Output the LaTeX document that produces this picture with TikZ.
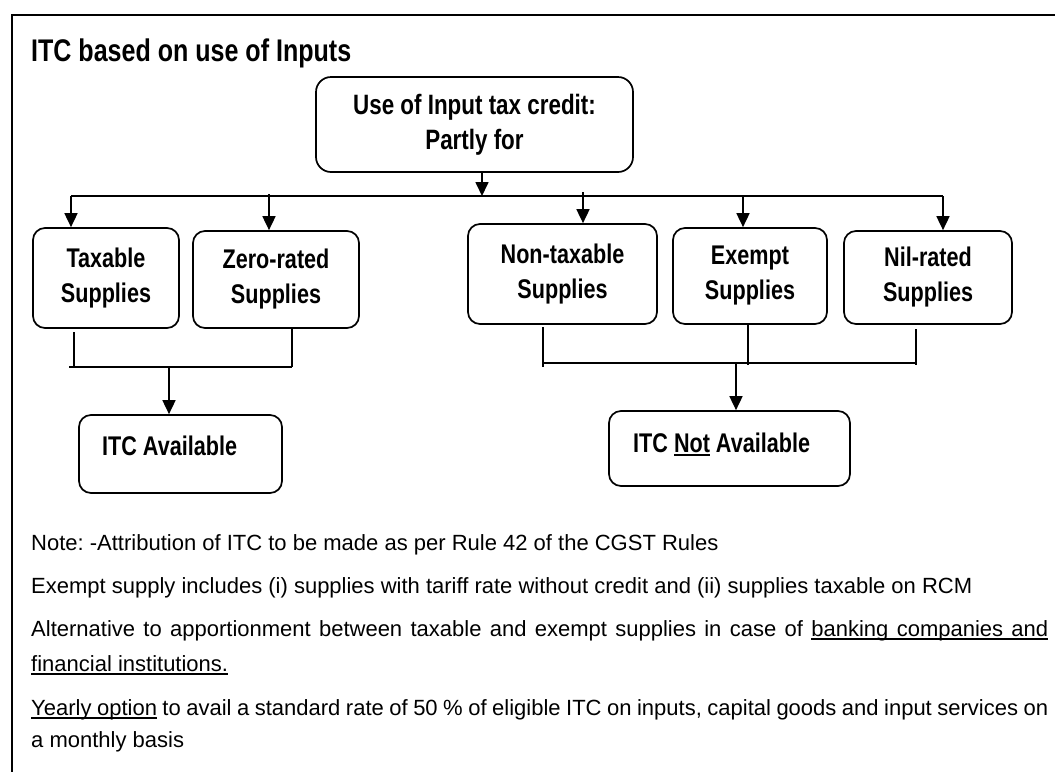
\documentclass[tikz,border=0pt]{standalone}
\usepackage{fontspec}
\setmainfont{Liberation Sans}
\newfontfamily\narrowfont{Liberation Sans}[FakeStretch=0.8]
\usetikzlibrary{arrows.meta}
\newcommand\ulw[1]{\setbox0=\hbox{#1}\rlap{\vrule height -2.4pt depth 4.0pt width \wd0}\box0\relax}
\newcommand\uls{\leaders\hrule height -2.4pt depth 4.0pt\hskip\fontdimen2\font plus \fontdimen3\font minus \fontdimen4\font\relax}
\begin{document}
\frenchspacing
\begin{tikzpicture}[x=1pt,y=-1pt,
  conn/.style={line width=1.7pt, line cap=butt},
  arr/.style={line width=1.7pt, -{Triangle[length=14pt,width=13pt]}},
  rbox/.style={draw, line width=1.7pt, rounded corners=12pt, inner sep=0pt, align=center,
    font=\narrowfont\bfseries\fontsize{27}{35}\selectfont},
  btext/.style={inner sep=0pt, anchor=base west, font=\narrowfont\bfseries\fontsize{27}{30}\selectfont},
  note/.style={inner sep=0pt, anchor=base west, font=\fontsize{22}{26}\selectfont}]
\useasboundingbox (0,0) rectangle (1055,772);
% frame
\coordinate (fr) at (1055,15);
\coordinate (fc) at (12,15);
\coordinate (fb) at (12,772);
\draw[line width=1.8pt] (fr) -- (fc) -- (fb);
% title
\node[inner sep=0pt, anchor=base west, font=\narrowfont\bfseries\fontsize{31.3}{34}\selectfont] (title) at (31,61) {ITC based on use of Inputs};
% boxes
\node[rbox, font=\narrowfont\bfseries\fontsize{28}{35}\selectfont, rounded corners=15pt, minimum width=317pt, minimum height=95pt] (top) at (474.5,124.5) {Use of Input tax credit:\\Partly for};
\node[rbox, minimum width=146pt, minimum height=100pt] (tax) at (106,278) {Taxable\\Supplies};
\node[rbox, minimum width=166pt, minimum height=97pt] (zero) at (276,279.5) {Zero-rated\\Supplies};
\node[rbox, minimum width=189pt, minimum height=100pt] (nontax) at (562.5,274) {Non-taxable\\Supplies};
\node[rbox, minimum width=154pt, minimum height=96pt] (exempt) at (750,276) {Exempt\\Supplies};
\node[rbox, minimum width=168pt, minimum height=93pt] (nil) at (928,277.5) {Nil-rated\\Supplies};
\node[rbox, minimum width=203pt, minimum height=78pt] (avail) at (180.5,454) {};
\node[btext] (availtxt) at (102,455) {ITC Available};
\node[rbox, minimum width=241pt, minimum height=75pt] (notavail) at (729.5,448.5) {};
\node[btext] (notavailtxt) at (633,452) {ITC \ulw{Not} Available};
% distribution line
\coordinate (hub) at (482,196);
\coordinate (L) at (71,196);
\coordinate (R) at (943,196);
\coordinate (a2) at (269,194);
\coordinate (a3) at (583,192);
\coordinate (a4) at (743,196);
\draw[conn] (L) -- (R);
\draw[arr] (top.south -| hub) -- (hub);
\draw[arr] (L) -- (L |- tax.north);
\draw[arr] (a2) -- (a2 |- zero.north);
\draw[arr] (a3) -- (a3 |- nontax.north);
\draw[arr] (a4) -- (a4 |- exempt.north);
\draw[arr] (R) -- (R |- nil.north);
% left bracket
\coordinate (lt) at (74,367);
\coordinate (lh) at (69,367);
\coordinate (lr) at (292,367);
\coordinate (lm) at (169,367);
\coordinate (lts) at (74,332);
\draw[conn] (lts) -- (lt);
\draw[conn] (lh) -- (lr);
\draw[conn] (zero.south -| lr) -- (lr);
\draw[arr] (lm) -- (lm |- avail.north);
% right bracket
\coordinate (rt) at (543,327);
\coordinate (rb) at (543,367);
\coordinate (rh) at (543,363);
\coordinate (rr) at (916,363);
\coordinate (re) at (748,365);
\coordinate (rn) at (916,365);
\coordinate (rns) at (916,329);
\coordinate (rm) at (736,363);
\draw[conn] (rt) -- (rb);
\draw[conn] (rh) -- (rr);
\draw[conn] (exempt.south -| re) -- (re);
\draw[conn] (rns) -- (rn);
\draw[arr] (rm) -- (rm |- notavail.north);
% notes
\node[note] (n1) at (31,550) {Note: -Attribution of ITC to be made as per Rule 42 of the CGST Rules};
\node[note] (n2) at (31,593) {Exempt supply includes (i) supplies with tariff rate without credit and (ii) supplies taxable on RCM};
\node[note] (n3) at (31,636) {\makebox[1017pt][s]{Alternative to apportionment between taxable and exempt supplies in case of \ulw{banking}\uls\ulw{companies}\uls\ulw{and}}};
\node[note] (n4) at (31,671) {\ulw{financial}\uls\ulw{institutions.}};
\node[note] (n5) at (31,715) {\makebox[1017pt][s]{\ulw{Yearly}\uls\ulw{option} to avail a standard rate of 50 \% of eligible ITC on inputs, capital goods and input services on}};
\node[note] (n6) at (31,747) {a monthly basis};
\end{tikzpicture}
\end{document}
